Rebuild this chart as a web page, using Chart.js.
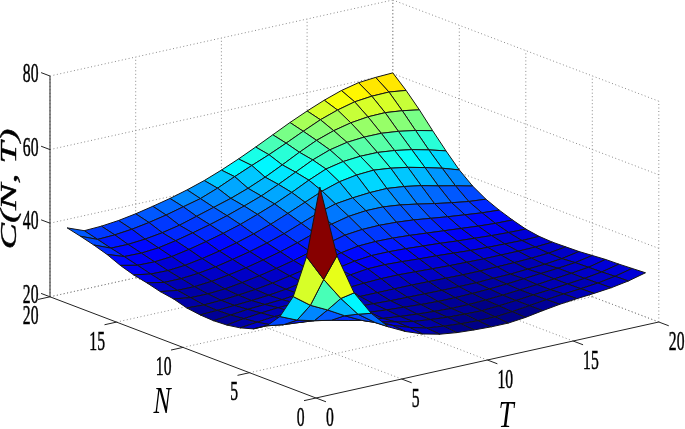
<!DOCTYPE html>
<html><head><meta charset="utf-8">
<style>html,body{margin:0;padding:0;background:#fff}canvas{display:block}</style>
<script src="https://cdn.jsdelivr.net/npm/chart.js@4"></script></head>
<body><canvas id="c" width="685" height="429"></canvas>
<script>
const tValues=[1,2,3,4,5,6,7,8,9,10,11,12,13,14,15,16,17,18,19,20];
const nValues=[1,2,3,4,5,6,7,8,9,10,11,12,13,14,15,16,17,18,19,20];
const cN01=[74.9,55.2,44.1,37.5,32.8,30.5,28.8,27.7,27.1,26.8,26.6,26.6,27.1,27.9,28.6,29.1,29.5,30,30.8,32];
const cN02=[54.6,47.4,41.2,35.9,32.6,30.8,29.2,28,27.5,27.1,26.9,26.9,27.3,27.9,28.5,29,29.4,29.9,30.7,31.8];
const cN03=[42.4,39,36.7,34.1,31.8,30.4,29.3,28.4,27.9,27.5,27.3,27.2,27.5,27.9,28.4,28.8,29.3,29.8,30.5,31.6];
const cN04=[35.6,33.6,32.4,31.5,30.4,29.6,28.9,28.4,28,27.7,27.5,27.5,27.7,28,28.4,28.8,29.3,29.8,30.4,31.5];
const cN05=[31.7,31,30.6,30.5,30,29.6,29.2,28.8,28.5,28.2,28,28,28.1,28.3,28.6,29,29.4,29.8,30.3,31.2];
const cN06=[29.5,29.6,29.9,30,29.8,29.6,29.3,29.1,28.9,28.8,28.7,28.6,28.6,28.6,28.8,28.9,29.2,29.5,30,30.9];
const cN07=[28.4,28.9,29.4,29.6,29.7,29.7,29.7,29.7,29.7,29.7,29.7,29.6,29.5,29.4,29.4,29.5,29.6,29.8,30.1,30.8];
const cN08=[27.8,28.5,29,29.4,29.6,29.9,30.2,30.6,30.9,31.1,31.1,30.9,30.7,30.5,30.4,30.3,30.3,30.3,30.4,30.7];
const cN09=[27.6,28.1,28.6,28.9,29.2,29.7,30.3,31,31.8,32.4,32.5,32.3,32,31.8,31.5,31.2,31,30.9,30.8,30.9];
const cN10=[27.8,28,28.3,28.6,29,29.6,30.4,31.2,32.2,33.1,33.6,33.6,33.4,33.1,32.8,32.4,32.1,31.8,31.6,31.5];
const cN11=[28.3,28.1,28.3,28.7,29.2,29.9,30.8,31.8,32.9,34,34.8,35,34.9,34.6,34.2,33.8,33.4,33,32.7,32.6];
const cN12=[29.4,28.7,28.7,29,29.7,30.5,31.5,32.6,33.9,35.2,36.4,36.9,37,36.8,36.4,35.8,35.2,34.7,34.2,33.9];
const cN13=[30,29.3,29.3,29.7,30.4,31.3,32.4,33.6,35,36.6,38,39.1,39.6,39.6,39.1,38.3,37.4,36.6,35.9,35.5];
const cN14=[31,30.1,30.1,30.5,31.2,32.2,33.3,34.6,36.1,37.9,39.7,41.1,41.7,42.1,42.2,41.7,40.9,39.8,38.8,37.7];
const cN15=[31.8,31,30.9,31.3,32.1,33.1,34.3,35.7,37.3,39.2,41.2,43.2,44.7,45.5,45.8,45.3,44.5,43.4,42.2,40.7];
const cN16=[33,32,31.9,32.3,33.2,34.3,35.5,36.9,38.6,40.4,42.5,44.8,46.8,47.8,48.2,48.2,47.7,46.9,45.8,44.5];
const cN17=[34.6,33,32.9,33.3,34.2,35.3,36.5,37.9,39.5,41.2,43.3,45.6,47.9,49.6,50.6,51,51,50.5,49.7,48.6];
const cN18=[35.8,33.9,33.9,34.3,35,36,37.4,38.8,40.2,41.9,43.9,46.2,48.6,50.8,52.4,53.5,54.1,54.2,53.7,52.9];
const cN19=[36.8,34.9,35.1,35.6,36.4,37.4,38.6,39.8,41.6,43.7,45.7,47.6,49.7,51.9,54,55.6,56.8,57.3,57.4,56.8];
const cN20=[37.7,35.9,36.1,36.6,37.4,38.4,39.5,40.8,42.3,44.1,46.1,48.3,50.6,52.9,55,56.9,58.5,59.6,60,60.2];
const cRows=[cN01,cN02,cN03,cN04,cN05,cN06,cN07,cN08,cN09,cN10,cN11,cN12,cN13,cN14,cN15,cN16,cN17,cN18,cN19,cN20];
const planTicks=[0,5,10,15,20];
const heightTicks=[20,40,60,80];

// orthographic view of the box
const view={ox:316,oy:398,tx:17.14,ty:-3.8,nx:-13.3,ny:-5.06,zy:-3.68,zBase:20};
const project=(t,n,z)=>({x:view.ox+view.tx*t+view.nx*n,y:view.oy+view.ty*t+view.ny*n+view.zy*(z-view.zBase)});
const cMin=26.5,cMax=74;
function jet(z){
  let v=Math.min(0.9999,Math.max(0,(z-cMin)/(cMax-cMin)));
  v=(Math.floor(v*64)+0.5)/64;
  const f=a=>Math.round(255*Math.max(0,Math.min(1,a)));
  return `rgb(${f(1.5-Math.abs(4*v-3))},${f(1.5-Math.abs(4*v-2))},${f(1.5-Math.abs(4*v-1))})`;
}
const datasets=[];
// first dataset is painted last, so nearest cells go first
const cells=[];
for(let j=0;j<nValues.length-1;j++)for(let i=0;i<tValues.length-1;i++)cells.push([i,j]);
cells.sort((a,b)=>(a[0]+a[1])-(b[0]+b[1]));
for(const [i,j] of cells){
  const p=(a,b)=>project(tValues[a],nValues[b],cRows[b][a]);
  const first=p(i,j);
  datasets.push({type:'scatter',showLine:true,fill:'shape',data:[first,p(i+1,j),p(i+1,j+1),p(i,j+1),first],
    backgroundColor:jet(cRows[j][i]),borderColor:'#141414',borderWidth:1,pointRadius:0,tension:0,clip:false});
}
function axisLine(a,b,w){datasets.push({type:'scatter',showLine:true,fill:false,data:[a,b],borderColor:'#222',borderWidth:w||1,pointRadius:0,clip:false});}
function gridLine(a,b){datasets.push({type:'scatter',showLine:true,fill:false,data:[a,b],borderColor:'#8a8a8a',borderWidth:1,borderDash:[1,2.5],pointRadius:0,clip:false});}
const tMax=20,nMax=20,zLo=20,zHi=80;
axisLine(project(0,nMax,zLo),project(0,nMax,zHi));
axisLine(project(0,nMax,zLo),project(0,0,zLo));
axisLine(project(0,0,zLo),project(tMax,0,zLo));
for(const z of heightTicks)axisLine(project(0,nMax,z),project(0,nMax+0.67,z));
for(const n of planTicks)axisLine(project(0,n,zLo),project(-0.7,n,zLo));
for(const t of planTicks)axisLine(project(t,0,zLo),project(t,-0.75,zLo));
for(const t of planTicks){
  if(t>0)gridLine(project(t,0,zLo),project(t,nMax,zLo));
  gridLine(project(t,nMax,zLo),project(t,nMax,zHi));
}
for(const n of planTicks){
  if(n>0)gridLine(project(0,n,zLo),project(tMax,n,zLo));
  gridLine(project(tMax,n,zLo),project(tMax,n,zHi));
}
for(const z of heightTicks){
  gridLine(project(0,nMax,z),project(tMax,nMax,z));
  gridLine(project(tMax,nMax,z),project(tMax,0,z));
}
function stretched(ctx,text,x,y,font,sx,align,rot,heavy){
  ctx.save();ctx.translate(x,y);if(rot)ctx.rotate(rot);ctx.scale(sx,1);
  ctx.font=font;ctx.textAlign=align;ctx.textBaseline='middle';ctx.fillStyle='#000';ctx.strokeStyle='#000';
  ctx.fillText(text,0,0);
  if(heavy){ctx.lineWidth=heavy;ctx.strokeText(text,0,0);}
  ctx.restore();
}
const textPlugin={id:'axisText',afterDraw(chart){
  const {ctx,scales:{x,y}}=chart;
  const at=(p)=>({x:x.getPixelForValue(p.x),y:y.getPixelForValue(p.y)});
  const tick='27px "Liberation Serif"';
  for(const z of heightTicks){const a=at(project(0,nMax,z));stretched(ctx,String(z),a.x-11.5,a.y-1,tick,0.58,'right',0,0.5);}
  for(const n of planTicks){const a=at(project(0,n,zLo));stretched(ctx,String(n),a.x-11.5,a.y+20.5,tick,0.58,'right',0,0.5);}
  for(const t of planTicks){const a=at(project(t,0,zLo));stretched(ctx,String(t),a.x+10,a.y+20.5,tick,0.58,'left',0,0.5);}
  stretched(ctx,'N',162,403,'italic 38px "Liberation Serif"',0.68,'center');
  stretched(ctx,'T',506,417,'italic 38px "Liberation Serif"',0.72,'center');
  stretched(ctx,'C(N, T)',10,189,'italic 24px "Liberation Serif"',1.65,'center',-Math.PI/2,0.4);
}};
new Chart(document.getElementById('c'),{
  type:'scatter',data:{datasets},plugins:[textPlugin],
  options:{responsive:false,animation:false,
    layout:{padding:0},
    plugins:{legend:{display:false},tooltip:{enabled:false}},
    scales:{x:{type:'linear',min:0,max:685,display:false},y:{type:'linear',min:0,max:429,reverse:true,display:false}}}
});
</script></body></html>
